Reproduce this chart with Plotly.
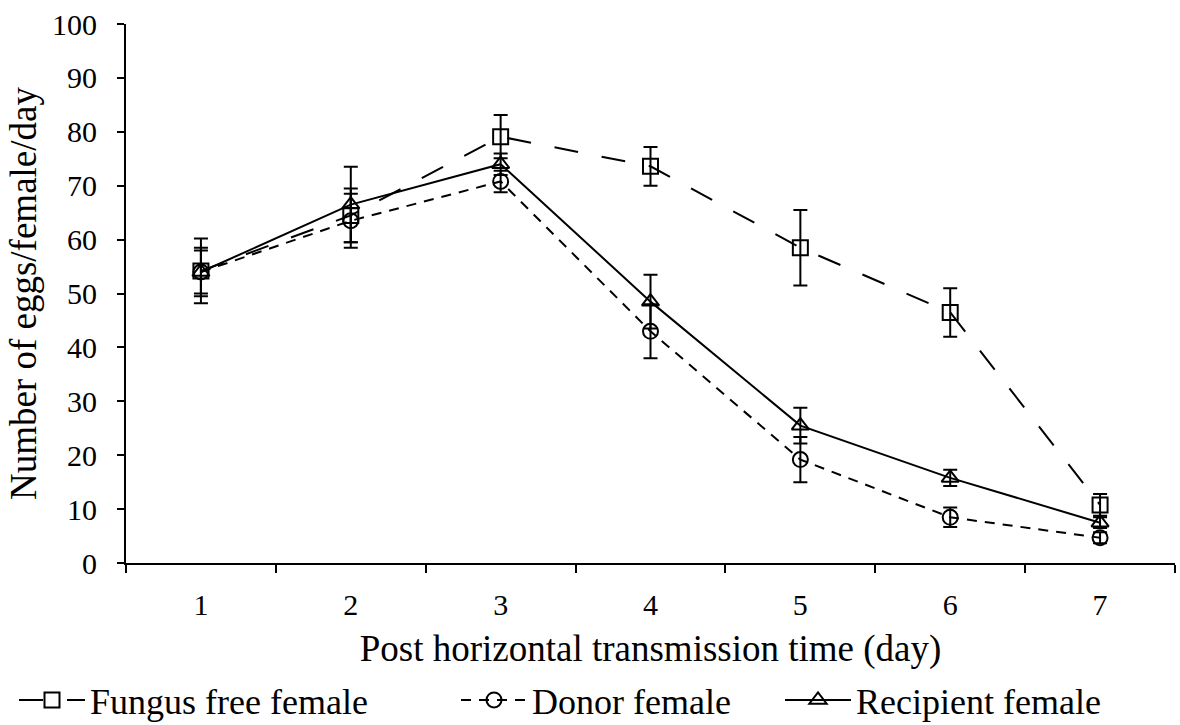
import plotly.graph_objects as go

days = ["1", "2", "3", "4", "5", "6", "7"]

fungus_free = [54.2, 64.5, 79.1, 73.6, 58.5, 46.5, 10.8]
fungus_free_err = [6.0, 5.0, 4.0, 3.6, 7.0, 4.5, 2.0]

donor = [54.0, 63.5, 70.8, 43.0, 19.2, 8.5, 4.7]
donor_err = [4.5, 5.0, 2.0, 5.0, 4.2, 1.8, 1.0]

recipient = [54.0, 66.5, 74.0, 48.5, 25.5, 15.8, 7.5]
recipient_err = [4.0, 7.0, 2.0, 5.0, 3.3, 1.5, 1.0]

# name, values, errors, marker, dash, legend id, legend left edge (px)
series = [
    ("Fungus free female", fungus_free, fungus_free_err, "square-open", "24px,24px", "legend", 14),
    ("Donor female", donor, donor_err, "circle-open", "10px,8px", "legend2", 456),
    ("Recipient female", recipient, recipient_err, "triangle-up-open", "solid", "legend3", 780),
]

font_family = "Liberation Serif"
W, H = 1180, 725

fig = go.Figure()
legend_layouts = {}
for name, vals, errs, symbol, dash, leg, left in series:
    fig.add_trace(go.Scatter(
        x=days, y=vals, name=name, mode="lines+markers", legend=leg,
        line=dict(color="black", width=2, dash=dash),
        marker=dict(symbol=symbol, size=15, color="black", line=dict(width=2, color="black")),
        error_y=dict(type="data", array=errs, visible=True, color="black", thickness=2, width=7),
    ))
    legend_layouts[leg] = dict(
        orientation="h", x=left / W, xanchor="left", xref="container",
        y=1 - 700 / H, yanchor="middle", yref="container",
        font=dict(family=font_family, size=36), itemwidth=66,
        bgcolor="rgba(0,0,0,0)",
    )

fig.update_layout(
    width=W, height=H,
    margin=dict(l=126, r=5, t=24, b=160),
    paper_bgcolor="white", plot_bgcolor="white",
    font=dict(family=font_family, size=30, color="black"),
    showlegend=True,
    **legend_layouts,
)
fig.update_xaxes(
    type="category", range=[-0.5, 6.5],
    showline=True, linecolor="black", linewidth=2, mirror=False,
    ticks="outside", tickson="boundaries", ticklen=8, tickwidth=2, tickcolor="black",
    showgrid=False, zeroline=False,
    tickfont=dict(family=font_family, size=30), ticklabelstandoff=14,
    title=dict(text="Post horizontal transmission time (day)",
               font=dict(family=font_family, size=37), standoff=18),
)
fig.update_yaxes(
    range=[0, 100], dtick=10,
    showline=True, linecolor="black", linewidth=2,
    ticks="outside", ticklen=7, tickwidth=2, tickcolor="black",
    showgrid=False, zeroline=False,
    tickfont=dict(family=font_family, size=30), ticklabelstandoff=14,
    title=dict(text="Number of eggs/female/day",
               font=dict(family=font_family, size=37), standoff=4),
)

fig.write_html("out.html")
